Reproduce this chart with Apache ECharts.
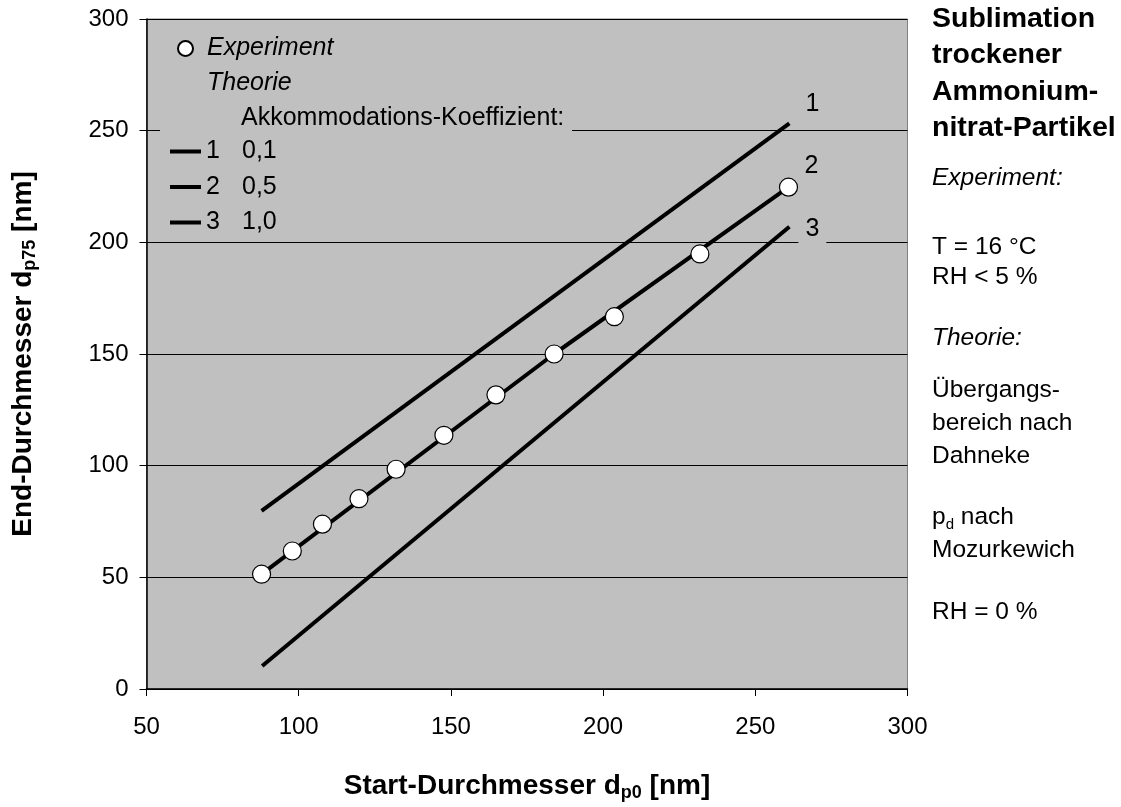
<!DOCTYPE html>
<html>
<head>
<meta charset="utf-8">
<script src="https://cdn.jsdelivr.net/npm/echarts@6/dist/echarts.min.js"></script>
<style>html,body{margin:0;padding:0;background:#fff}#c{width:1121px;height:807px}</style>
</head>
<body>
<div id="c"></div>
<script>
// ---- data ----
const xTicks = [50, 100, 150, 200, 250, 300];
const yTicks = [0, 50, 100, 150, 200, 250, 300];
const expX = [87.8, 97.9, 107.8, 119.8, 132.0, 147.7, 164.8, 183.9, 203.7, 231.8, 260.9];
const expY = [51.4, 61.8, 73.8, 85.2, 98.4, 113.6, 131.7, 150.0, 166.7, 194.8, 224.7];
const line1X = [87.8, 261.2];
const line1Y = [79.8, 253.3];
const line2X = [87.8, 183.9, 260.9];
const line2Y = [51.4, 150.0, 224.7];
const line3X = [88.0, 261.2];
const line3Y = [10.3, 207.0];
const lineNames = ['1', '2', '3'];
const coeffs = ['0,1', '0,5', '1,0'];
const titleLines = ['Sublimation', 'trockener', 'Ammonium-', 'nitrat-Partikel'];

const FONT = 'Liberation Sans, Arial, sans-serif';
const zip = (xs, ys) => xs.map((x, i) => [x, ys[i]]);
const labelOffsets = [[1, -19], [1, -21], [1, 2]];

const lineSeries = [[line1X, line1Y], [line2X, line2Y], [line3X, line3Y]].map((d, i) => ({
  name: lineNames[i],
  type: 'line',
  data: zip(d[0], d[1]),
  showSymbol: false,
  symbol: 'none',
  lineStyle: { color: '#000', width: 4 },
  itemStyle: { color: '#000' },
  z: 2,
  endLabel: {
    show: true,
    formatter: lineNames[i],
    color: '#000',
    fontFamily: FONT,
    fontSize: 25,
    backgroundColor: '#c0c0c0',
    padding: [4, 7, 20, 7],
    offset: labelOffsets[i]
  }
}));

const rightTexts = [
  { t: 'Experiment:', y: 178, it: true },
  { t: 'T = 16 °C', y: 247 },
  { t: 'RH < 5 %', y: 277 },
  { t: 'Theorie:', y: 338, it: true },
  { t: 'Übergangs-', y: 390 },
  { t: 'bereich nach', y: 423 },
  { t: 'Dahneke', y: 456 },
  { t: 'Mozurkewich', y: 550 },
  { t: 'RH = 0 %', y: 612 }
];

const graphics = [
  { type: 'rect', z: 1, shape: { x: 160, y: 22, width: 412, height: 216 }, style: { fill: '#c0c0c0' } },
  { type: 'text', z: 5, x: 207, y: 83, style: { text: 'Theorie', font: 'italic 25px ' + FONT, fill: '#000', verticalAlign: 'middle' } },
  { type: 'text', z: 5, x: 241, y: 118, style: { text: 'Akkommodations-Koeffizient:', font: '25px ' + FONT, fill: '#000', verticalAlign: 'middle' } },
  { type: 'text', z: 5, x: 932, y: 1, style: { text: titleLines.join('\n'), font: 'bold 28.5px ' + FONT, lineHeight: 36.3, fill: '#000', verticalAlign: 'top' } },
  { type: 'text', z: 5, x: 932, y: 517, style: {
      text: '{n|p}{s|d}{n| nach}', verticalAlign: 'middle',
      rich: {
        n: { fontSize: 24.5, fontFamily: FONT, color: '#000', lineHeight: 30 },
        s: { fontSize: 15, fontFamily: FONT, color: '#000', lineHeight: 15, verticalAlign: 'bottom' }
      } } }
].concat(rightTexts.map(r => ({
  type: 'text', z: 5, x: 932, y: r.y,
  style: { text: r.t, font: (r.it ? 'italic ' : '') + '24.5px ' + FONT, fill: '#000', verticalAlign: 'middle' }
})));

const nameRich = {
  n: { fontSize: 28, fontWeight: 'bold', fontFamily: FONT, color: '#000', lineHeight: 32 },
  s: { fontSize: 18, fontWeight: 'bold', fontFamily: FONT, color: '#000', lineHeight: 18, verticalAlign: 'bottom' }
};

const option = {
  animation: false,
  backgroundColor: '#fff',
  grid: {
    left: 146.5, right: 213.5, top: 19, bottom: 118,
    show: true, backgroundColor: '#c0c0c0', borderColor: '#808080', borderWidth: 1
  },
  xAxis: {
    type: 'value', min: xTicks[0], max: xTicks[xTicks.length - 1], interval: 50,
    name: '{n|Start-Durchmesser d}{s|p0}{n| [nm]}',
    nameLocation: 'middle', nameGap: 81,
    nameTextStyle: { rich: nameRich },
    axisLine: { show: true, onZero: false, lineStyle: { color: '#000', width: 1.5 } },
    axisTick: { show: true, inside: false, length: 7, lineStyle: { color: '#000' } },
    axisLabel: { color: '#000', fontSize: 24, fontFamily: FONT, margin: 26 },
    splitLine: { show: false }
  },
  yAxis: {
    type: 'value', min: yTicks[0], max: yTicks[yTicks.length - 1], interval: 50,
    name: '{n|End-Durchmesser d}{s|p75}{n| [nm]}',
    nameLocation: 'middle', nameGap: 107.5, nameRotate: 90,
    nameTextStyle: { rich: nameRich },
    axisLine: { show: true, onZero: false, lineStyle: { color: '#000', width: 1.5 } },
    axisTick: { show: true, inside: false, length: 7, lineStyle: { color: '#000' } },
    axisLabel: { color: '#000', fontSize: 24, fontFamily: FONT, margin: 18 },
    splitLine: { show: true, lineStyle: { color: '#000', width: 1 } }
  },
  legend: [
    {
      data: ['Experiment'], selectedMode: false,
      left: 172, top: 31, itemWidth: 15, itemHeight: 15, icon: 'circle',
      textStyle: { fontSize: 25, fontStyle: 'italic', fontFamily: FONT, color: '#000', padding: [0, 0, 0, 9] }
    },
    {
      data: lineNames, selectedMode: false, orient: 'vertical',
      left: 165, top: 134, itemWidth: 31, itemHeight: 4, itemGap: 10.5, icon: 'rect',
      formatter: name => '{a|' + name + '}{b|' + coeffs[lineNames.indexOf(name)] + '}',
      textStyle: {
        fontSize: 25, fontFamily: FONT, color: '#000',
        rich: {
          a: { fontSize: 25, fontFamily: FONT, color: '#000', width: 36, lineHeight: 25 },
          b: { fontSize: 25, fontFamily: FONT, color: '#000', lineHeight: 25 }
        }
      }
    }
  ],
  graphic: { elements: graphics },
  series: lineSeries.concat([{
    name: 'Experiment',
    type: 'scatter',
    data: zip(expX, expY),
    symbol: 'circle',
    symbolSize: 18,
    itemStyle: { color: '#fff', borderColor: '#000', borderWidth: 1.2, opacity: 1 },
    z: 3
  }])
};

const chart = echarts.init(document.getElementById('c'), null, { renderer: 'canvas' });
chart.setOption(option);
</script>
</body>
</html>
